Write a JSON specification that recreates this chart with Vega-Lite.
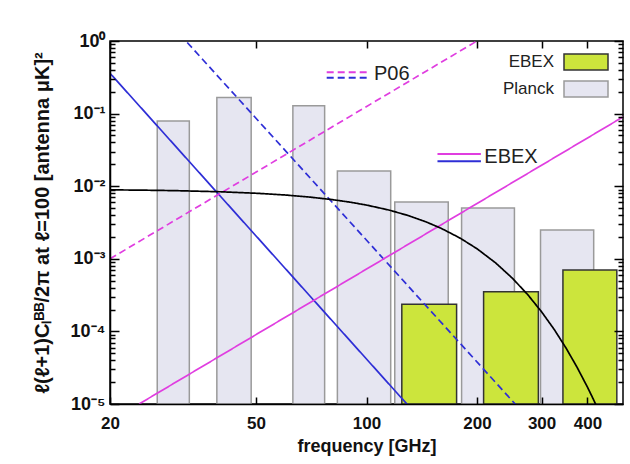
{
  "$schema": "https://vega.github.io/schema/vega-lite/v6.json",
  "width": 513,
  "height": 363,
  "autosize": "none",
  "padding": {"left": 110, "top": 41, "right": 7, "bottom": 60},
  "background": "white",
  "datasets": {
    "bars": [
      {"source": "Planck", "lo": 26.9, "hi": 32.9, "top": 0.079},
      {"source": "Planck", "lo": 39.1, "hi": 48.5, "top": 0.166},
      {"source": "Planck", "lo": 63.0, "hi": 76.9, "top": 0.128},
      {"source": "Planck", "lo": 83.3, "hi": 116.4, "top": 0.0162},
      {"source": "Planck", "lo": 119.4, "hi": 167.0, "top": 0.00606},
      {"source": "Planck", "lo": 181.6, "hi": 253.0, "top": 0.00501},
      {"source": "Planck", "lo": 298.0, "hi": 416.0, "top": 0.00249},
      {"source": "EBEX", "lo": 124.8, "hi": 176.0, "top": 0.000236},
      {"source": "EBEX", "lo": 208.5, "hi": 294.0, "top": 0.000352},
      {"source": "EBEX", "lo": 343.0, "hi": 481.0, "top": 0.0007}
    ],
    "lines": [
      {"comp": "synchrotron", "model": "EBEX", "freq": 20, "value": 0.36},
      {"comp": "synchrotron", "model": "EBEX", "freq": 130, "value": 0.0000095},
      {"comp": "synchrotron", "model": "P06", "freq": 31, "value": 1.236},
      {"comp": "synchrotron", "model": "P06", "freq": 260, "value": 0.0000088},
      {"comp": "dust", "model": "EBEX", "freq": 24, "value": 0.00001},
      {"comp": "dust", "model": "EBEX", "freq": 500, "value": 0.09},
      {"comp": "dust", "model": "P06", "freq": 20, "value": 0.001},
      {"comp": "dust", "model": "P06", "freq": 200, "value": 1.0},
      {"comp": "CMB", "model": "CMB", "freq": 20, "value": 0.00891},
      {"comp": "CMB", "model": "CMB", "freq": 25, "value": 0.00881},
      {"comp": "CMB", "model": "CMB", "freq": 30, "value": 0.00869},
      {"comp": "CMB", "model": "CMB", "freq": 40, "value": 0.00838},
      {"comp": "CMB", "model": "CMB", "freq": 50, "value": 0.0080},
      {"comp": "CMB", "model": "CMB", "freq": 60, "value": 0.00757},
      {"comp": "CMB", "model": "CMB", "freq": 70, "value": 0.00708},
      {"comp": "CMB", "model": "CMB", "freq": 80, "value": 0.00657},
      {"comp": "CMB", "model": "CMB", "freq": 90, "value": 0.00604},
      {"comp": "CMB", "model": "CMB", "freq": 100, "value": 0.0055},
      {"comp": "CMB", "model": "CMB", "freq": 115, "value": 0.0047},
      {"comp": "CMB", "model": "CMB", "freq": 130, "value": 0.00394},
      {"comp": "CMB", "model": "CMB", "freq": 145, "value": 0.00324},
      {"comp": "CMB", "model": "CMB", "freq": 160, "value": 0.00262},
      {"comp": "CMB", "model": "CMB", "freq": 180, "value": 0.001925},
      {"comp": "CMB", "model": "CMB", "freq": 200, "value": 0.001377},
      {"comp": "CMB", "model": "CMB", "freq": 225, "value": 0.000876},
      {"comp": "CMB", "model": "CMB", "freq": 250, "value": 0.000538},
      {"comp": "CMB", "model": "CMB", "freq": 275, "value": 0.000321},
      {"comp": "CMB", "model": "CMB", "freq": 300, "value": 0.000186},
      {"comp": "CMB", "model": "CMB", "freq": 325, "value": 0.0001057},
      {"comp": "CMB", "model": "CMB", "freq": 350, "value": 0.0000586},
      {"comp": "CMB", "model": "CMB", "freq": 375, "value": 0.0000319},
      {"comp": "CMB", "model": "CMB", "freq": 400, "value": 0.0000171},
      {"comp": "CMB", "model": "CMB", "freq": 415, "value": 0.00001167},
      {"comp": "CMB", "model": "CMB", "freq": 440, "value": 0.00000611}
    ],
    "keys": [
      {"label": "P06", "comp": "dust", "model": "P06", "f0": 77.9, "f1": 100.1, "value": 0.371},
      {"label": "P06", "comp": "synchrotron", "model": "P06", "f0": 77.9, "f1": 100.1, "value": 0.312},
      {"label": "EBEX", "comp": "dust", "model": "EBEX", "f0": 156.1, "f1": 205, "value": 0.0278},
      {"label": "EBEX", "comp": "synchrotron", "model": "EBEX", "f0": 156.1, "f1": 205, "value": 0.022}
    ],
    "labels": [
      {"label": "P06", "freq": 104.8, "value": 0.348},
      {"label": "EBEX", "freq": 209.4, "value": 0.0255}
    ]
  },
  "resolve": {"axis": {"x": "independent", "y": "independent"}},
  "layer": [
    {
      "data": {"name": "bars"},
      "transform": [{"filter": "datum.source == 'Planck'"}],
      "mark": {"type": "rect", "strokeWidth": 1.5, "clip": true},
      "encoding": {
        "x": {"field": "lo", "type": "quantitative",
          "scale": {"type": "log", "domain": [20, 500], "nice": false},
          "axis": {"orient": "bottom", "values": [20, 50, 100, 200, 300, 400], "tickSize": 0, "labelPadding": 11, "labelFontSize": 17, "labelFlush": false, "labelOverlap": false, "title": "frequency [GHz]", "titleFontSize": 18, "titlePadding": 6, "format": "d",
            "grid": true, "gridColor": "#000000", "gridWidth": 1.5, "gridOpacity": 1, "gridDash": [7, 349, 7, 1000], "zindex": 1}},
        "x2": {"field": "hi"},
        "y": {"field": "top", "type": "quantitative",
          "scale": {"type": "log", "domain": [0.00001, 1], "nice": false},
          "axis": {"orient": "left", "values": [1, 0.1, 0.01, 0.001, 0.0001, 0.00001], "tickSize": 0, "labelPadding": 5, "labelFontSize": 18, "labelFlush": false, "labelOverlap": false,
            "labelExpr": "datum.value == 1 ? '10⁰' : datum.value == 0.1 ? '10⁻¹' : datum.value == 0.01 ? '10⁻²' : datum.value == 0.001 ? '10⁻³' : datum.value == 0.0001 ? '10⁻⁴' : '10⁻⁵'",
            "title": "ℓ(ℓ+1)Cₗᴮᴮ/2π at ℓ=100 [antenna μK]²", "titleFontSize": 20, "titlePadding": 18,
            "grid": true, "gridColor": "#000000", "gridWidth": 1.5, "gridOpacity": 1, "gridDash": [9, 495, 9, 1000], "zindex": 1}},
        "y2": {"datum": 0.00001},
        "fill": {"field": "source", "type": "nominal",
          "scale": {"domain": ["EBEX", "Planck"], "range": ["#cce53c", "#e6e6f1"]},
          "legend": {"title": null}},
        "stroke": {"field": "source", "type": "nominal",
          "scale": {"domain": ["EBEX", "Planck"], "range": ["#333333", "#9a9a9a"]},
          "legend": {"title": null}}
      }
    },
    {
      "data": {"name": "bars"},
      "transform": [{"filter": "datum.source == 'EBEX'"}],
      "mark": {"type": "rect", "strokeWidth": 1.5, "clip": true},
      "encoding": {
        "x": {"field": "lo", "type": "quantitative",
          "scale": {"type": "log", "domain": [20, 500], "nice": false}, "axis": null},
        "x2": {"field": "hi"},
        "y": {"field": "top", "type": "quantitative",
          "scale": {"type": "log", "domain": [0.00001, 1], "nice": false}, "axis": null},
        "y2": {"datum": 0.00001},
        "fill": {"field": "source", "type": "nominal",
          "scale": {"domain": ["EBEX", "Planck"], "range": ["#cce53c", "#e6e6f1"]},
          "legend": {"title": null}},
        "stroke": {"field": "source", "type": "nominal",
          "scale": {"domain": ["EBEX", "Planck"], "range": ["#333333", "#9a9a9a"]},
          "legend": {"title": null}}
      }
    },
    {
      "data": {"name": "lines"},
      "mark": {"type": "line", "strokeWidth": 1.7, "clip": true},
      "encoding": {
        "x": {"field": "freq", "type": "quantitative",
          "scale": {"type": "log", "domain": [20, 500], "nice": false}, "axis": null},
        "y": {"field": "value", "type": "quantitative",
          "scale": {"type": "log", "domain": [0.00001, 1], "nice": false}, "axis": null},
        "color": {"field": "comp", "type": "nominal",
          "scale": {"domain": ["synchrotron", "dust", "CMB"], "range": ["#2e2ed6", "#e03ee0", "#000000"]},
          "legend": null},
        "strokeDash": {"field": "model", "type": "nominal",
          "scale": {"domain": ["EBEX", "P06", "CMB"], "range": [[1, 0], [7, 4], [1, 0]]},
          "legend": null}
      }
    },
    {
      "data": {"name": "keys"},
      "mark": {"type": "rule", "strokeWidth": 2},
      "encoding": {
        "x": {"field": "f0", "type": "quantitative",
          "scale": {"type": "log", "domain": [20, 500], "nice": false}, "axis": null},
        "x2": {"field": "f1"},
        "y": {"field": "value", "type": "quantitative",
          "scale": {"type": "log", "domain": [0.00001, 1], "nice": false},
          "axis": {"orient": "left", "values": [0.00002,0.00003,0.00004,0.00005,0.00006,0.00007,0.00008,0.00009,0.0002,0.0003,0.0004,0.0005,0.0006,0.0007,0.0008,0.0009,0.002,0.003,0.004,0.005,0.006,0.007,0.008,0.009,0.02,0.03,0.04,0.05,0.06,0.07,0.08,0.09,0.2,0.3,0.4,0.5,0.6,0.7,0.8,0.9],
            "ticks": false, "labels": false, "domain": false, "title": null,
            "grid": true, "gridColor": "#000000", "gridWidth": 1.3, "gridOpacity": 1, "gridDash": [5, 503, 5, 1000], "zindex": 1}},
        "color": {"field": "comp", "type": "nominal",
          "scale": {"domain": ["synchrotron", "dust", "CMB"], "range": ["#2e2ed6", "#e03ee0", "#000000"]},
          "legend": null},
        "strokeDash": {"field": "model", "type": "nominal",
          "scale": {"domain": ["EBEX", "P06", "CMB"], "range": [[1, 0], [7, 4], [1, 0]]},
          "legend": null}
      }
    },
    {
      "data": {"name": "labels"},
      "mark": {"type": "text", "align": "left", "baseline": "middle", "font": "Liberation Sans", "fontSize": 20, "color": "#222222"},
      "encoding": {
        "x": {"field": "freq", "type": "quantitative",
          "scale": {"type": "log", "domain": [20, 500], "nice": false}, "axis": null},
        "y": {"field": "value", "type": "quantitative",
          "scale": {"type": "log", "domain": [0.00001, 1], "nice": false}, "axis": null},
        "text": {"field": "label"}
      }
    }
  ],
  "config": {
    "view": {"stroke": "#000000", "strokeWidth": 1.5},
    "axis": {"domainColor": "#000000", "domainWidth": 1.5, "tickColor": "#000000", "tickWidth": 1.5, "grid": false,
      "labelFont": "Liberation Sans", "labelFontWeight": "bold", "labelFontSize": 15, "labelColor": "#111111",
      "titleFont": "Liberation Sans", "titleFontWeight": "bold", "titleFontSize": 16, "titleColor": "#111111"},
    "legend": {"orient": "top-right", "offset": 12, "symbolType": "M-2.75,-1L2.75,-1L2.75,1L-2.75,1Z", "symbolSize": 256,
      "symbolStrokeWidth": 1.5, "symbolOpacity": 1, "labelFont": "Liberation Sans", "labelFontSize": 17, "labelColor": "#222222",
      "labelAlign": "right", "labelOffset": -41, "rowPadding": 5, "padding": 0}
  }
}
